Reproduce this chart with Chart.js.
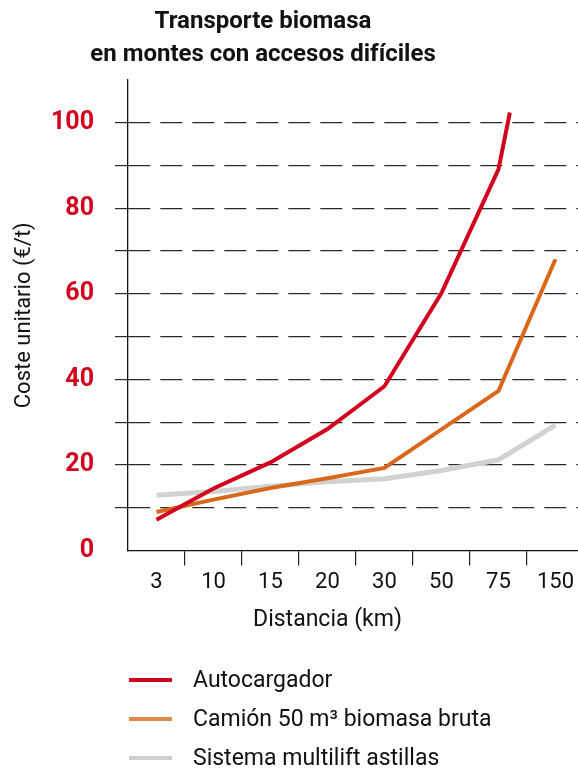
<!DOCTYPE html>
<html>
<head>
<meta charset="utf-8">
<script src="https://cdn.jsdelivr.net/npm/chart.js@4/dist/chart.umd.min.js"></script>
<style>
  html, body { margin: 0; padding: 0; background: #fff; }
  #wrap { position: relative; width: 578px; height: 769px; overflow: hidden; font-family: Roboto, "DejaVu Sans", sans-serif; }
  #c { position: absolute; left: 0; top: 0; }
  #title { position: absolute; left: 0; top: 4px; width: 526px; text-align: center; font-weight: bold; font-size: 24px; line-height: 33px; color: #111; }
  #legend { position: absolute; left: 129px; top: 660px; }
  .item { display: flex; align-items: center; height: 39px; }
  .sw { width: 43px; height: 4px; margin-right: 21px; }
  .lbl { font-size: 23px; color: #111; white-space: nowrap; }
</style>
</head>
<body>
<div id="wrap">
  <canvas id="c" width="578" height="769"></canvas>
  <div id="title">Transporte biomasa<br>en montes con accesos difíciles</div>
  <div id="legend"></div>
</div>
<script>
// Distance categories (km), plotted at index positions 0..7
const categories = ['3', '10', '15', '20', '30', '50', '75', '150'];

// Unit cost (€/t) per transport system; x = category position
const autocargadorX = [0, 1, 2, 3, 4, 5, 6, 6.2];
const autocargadorY = [7.2, 14.5, 20.6, 28.4, 38.4, 60.2, 89.1, 102.4];

const camionX = [0, 1, 2, 3, 4, 5, 6, 7];
const camionY = [9.0, 11.9, 14.6, 16.9, 19.3, 28.3, 37.3, 68.1];

const multiliftX = [0, 1, 2, 3, 4, 5, 6, 7];
const multiliftY = [12.9, 13.8, 15.0, 16.1, 16.8, 18.7, 21.2, 29.3];

const seriesNames = ['Autocargador', 'Camión 50 m³ biomasa bruta', 'Sistema multilift astillas'];
const seriesColors = ['#d2021f', '#d9681c', '#d2d2d2'];
const legendColors = ['#d2021f', '#e08a4c', '#cfcfcf'];

const yTicks = [0, 10, 20, 30, 40, 50, 60, 70, 80, 90, 100];
const yTitle = 'Coste unitario (€/t)';
const xTitle = 'Distancia (km)';

const FONT = 'Roboto, "DejaVu Sans", sans-serif';

function pts(xs, ys) { return xs.map((x, i) => ({ x: x, y: ys[i] })); }

const xTitlePlugin = {
  id: 'xTitle',
  afterDraw(chart) {
    const ctx = chart.ctx;
    const xs = chart.scales.x;
    ctx.save();
    ctx.font = '23px ' + FONT;
    ctx.fillStyle = '#111';
    ctx.textAlign = 'center';
    ctx.textBaseline = 'middle';
    ctx.fillText(xTitle, xs.getPixelForValue(3), 620);
    ctx.restore();
  }
};

const chart = new Chart(document.getElementById('c'), {
  type: 'line',
  data: {
    datasets: [
      { label: seriesNames[0], data: pts(autocargadorX, autocargadorY), borderColor: seriesColors[0], borderWidth: 4 },
      { label: seriesNames[1], data: pts(camionX, camionY), borderColor: seriesColors[1], borderWidth: 4 },
      { label: seriesNames[2], data: pts(multiliftX, multiliftY), borderColor: seriesColors[2], borderWidth: 5 }
    ]
  },
  options: {
    responsive: false,
    animation: false,
    layout: { padding: { top: 80, left: 0, right: 0, bottom: 0 } },
    elements: {
      point: { radius: 0 },
      line: { tension: 0, borderCapStyle: 'butt', borderJoinStyle: 'miter', fill: false }
    },
    plugins: {
      legend: { display: false },
      title: { display: false },
      tooltip: { enabled: false }
    },
    scales: {
      x: {
        type: 'linear',
        min: -0.5,
        max: 7.395,
        afterBuildTicks(scale) { scale.ticks = categories.map((c, i) => ({ value: i })); },
        afterFit(scale) { scale.height = 218.5; },
        border: { display: true, color: '#111', width: 1.3 },
        grid: {
          offset: true,
          drawOnChartArea: false,
          drawTicks: true,
          tickLength: 15,
          color: (ctx) => ctx.index === 0 ? 'rgba(0,0,0,0)' : '#222',
          lineWidth: 1.2
        },
        ticks: {
          autoSkip: false,
          maxRotation: 0,
          padding: 4,
          color: '#111',
          font: { family: FONT, size: 22 },
          callback: (v) => categories[v]
        }
      },
      y: {
        type: 'linear',
        min: 0,
        max: 110,
        afterBuildTicks(scale) { scale.ticks = yTicks.map(v => ({ value: v })); },
        afterFit(scale) { scale.width = 128; },
        border: { display: true, color: '#111', width: 1.3, dash: [22, 10] },
        grid: {
          drawTicks: true,
          tickLength: 13,
          color: (ctx) => (ctx.tick && ctx.tick.value === 0) ? 'rgba(0,0,0,0)' : '#2a2a2a',
          lineWidth: 1.2,
          tickBorderDash: []
        },
        ticks: {
          padding: 21,
          color: '#d2021f',
          font: { family: FONT, size: 25, weight: 'bold' },
          callback: (v) => (v % 20 === 0 ? String(v) : '')
        },
        title: {
          display: true,
          text: yTitle,
          color: '#111',
          font: { family: FONT, size: 22 },
          padding: { top: 11, bottom: 0 }
        }
      }
    }
  },
  plugins: [xTitlePlugin]
});

// Legend built from the chart's datasets
const legend = document.getElementById('legend');
chart.data.datasets.forEach((ds, i) => {
  const row = document.createElement('div');
  row.className = 'item';
  const sw = document.createElement('span');
  sw.className = 'sw';
  sw.style.background = legendColors[i];
  const lbl = document.createElement('span');
  lbl.className = 'lbl';
  lbl.textContent = ds.label;
  row.appendChild(sw);
  row.appendChild(lbl);
  legend.appendChild(row);
});
</script>
</body>
</html>
